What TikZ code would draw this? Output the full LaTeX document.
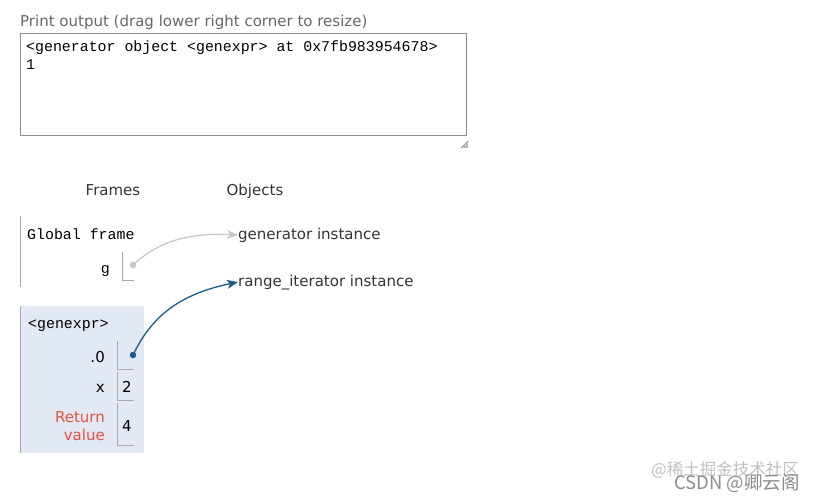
\documentclass[tikz,border=0pt]{standalone}
\usepackage{fontspec}
\setmainfont{DejaVu Sans}
\newfontfamily\monof{Liberation Mono}
\newfontfamily\cjkf{Noto Sans CJK SC}
\usetikzlibrary{arrows.meta}
\definecolor{framebg}{HTML}{E2E9F4}
\definecolor{ptblue}{HTML}{1A5C87}
\definecolor{ptgray}{HTML}{C8C8C8}
\definecolor{linegray}{HTML}{A8A8A8}
\definecolor{retred}{HTML}{E5503D}
\definecolor{txt}{HTML}{333333}
\begin{document}
\begin{tikzpicture}[x=1pt,y=-1pt,
  sans/.style={font=\fontsize{15}{17}\selectfont, text=txt, inner sep=0pt},
  mono/.style={font=\monof\fontsize{14.9}{17}\selectfont, text=black, inner sep=0pt},
  boxline/.style={draw=linegray, line width=0.8pt},
  dotnode/.style={circle, fill=#1, inner sep=0pt, minimum size=6.5pt},
  ptarrow/.style={line width=1.3pt, -{Stealth[length=11pt,width=9pt,inset=3pt]}},
]
\useasboundingbox (0,0) rectangle (821,499);
% print output
\node[sans, text=black!60, anchor=base west] (ptitle) at (20,26) {Print output (drag lower right corner to resize)};
\node[draw=black!45, line width=0.9pt, minimum width=446pt, minimum height=102pt, anchor=north west, inner sep=0pt] (outbox) at (20,33) {};
\node[mono, anchor=base west] (out1) at (26,51) {<generator object <genexpr> at 0x7fb983954678>};
\node[mono, anchor=base west] (out2) at (26,69) {1};
\draw[black!55, line width=0.7pt] (461,148) -- (468,141) (463.5,148) -- (468,143.5) (466,148) -- (468,146);
% headings
\node[sans, anchor=base] (frames) at (113,195) {Frames};
\node[sans, anchor=base] (objects) at (255,195) {Objects};
% global frame
\draw[boxline] (20,216) -- (20,287);
\node[mono, anchor=base west] (gf) at (27,239) {Global frame};
\node[mono, anchor=base east] (g) at (110,273) {g};
\draw[boxline] (122,252) -- (122,280) -- (134,280);
\node[dotnode=ptgray] (gdot) at (133,265) {};
% objects
\node[sans, anchor=base west] (gen) at (238,239) {generator instance};
\node[sans, anchor=base west] (rng) at (238,286) {range\_iterator instance};
% genexpr frame
\fill[framebg] (20,306) rectangle (144,453);
\draw[boxline] (20,306) -- (20,453);
\node[mono, anchor=base west] (ge) at (28,328) {<genexpr>};
\node[sans, anchor=base east, text=black] (v0) at (105,362) {.0};
\draw[boxline] (117,341) -- (117,369) -- (134,369);
\node[dotnode=ptblue] (bdot) at (133,355) {};
\node[sans, anchor=base east, text=black] (vx) at (105,392) {x};
\draw[boxline] (117,372) -- (117,400) -- (134,400);
\node[sans, anchor=base, text=black] (v2) at (127,392) {2};
\node[sans, anchor=base east, text=retred] (ret1) at (105,422) {Return};
\node[sans, anchor=base east, text=retred] (ret2) at (105,440) {value};
\draw[boxline] (117,403) -- (117,445) -- (134,445);
\node[sans, anchor=base, text=black] (v4) at (127,431) {4};
% arrows
\draw[ptgray, ptarrow] (gdot.center) .. controls (160,240) and (190,233) .. (gen.west);
\draw[ptblue, ptarrow] (bdot.center) .. controls (150,320) and (175,295) .. (rng.west);
% watermark
\node[font=\cjkf\fontsize{16.5}{18}\selectfont, text=black!25, anchor=base west, inner sep=0pt] (wm1) at (651,475) {@稀土掘金技术社区};
\node[font=\cjkf\fontsize{18.5}{20}\selectfont, text=black!45, anchor=base west, inner sep=0pt] (wm2) at (674,489) {CSDN @卿云阁};
\end{tikzpicture}
\end{document}
